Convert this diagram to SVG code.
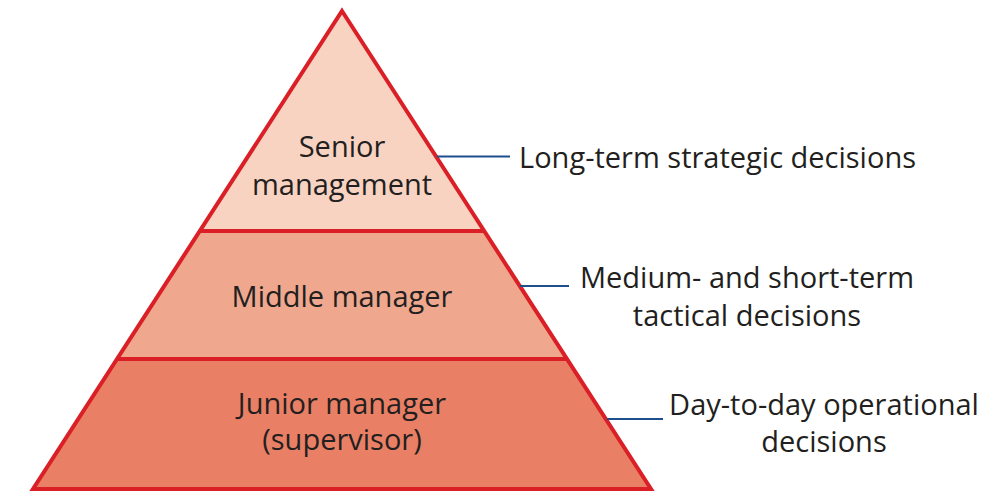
<svg xmlns="http://www.w3.org/2000/svg" width="1005" height="500" viewBox="0 0 1005 500">
  <style>
    .band { stroke: none; }
    .edge { fill: none; stroke: #DA1F26; stroke-width: 4; stroke-linejoin: miter; }
    .divider { stroke: #DA1F26; stroke-width: 4; }
    .lbl { font-family: "Open Sans", "Noto Sans", "Liberation Sans", sans-serif; font-size: 29px; fill: #231F20; text-anchor: middle; }
    .link { stroke: #1F4E8C; stroke-width: 2; }
  </style>

  <!-- pyramid tiers: apex (342,11), base (33,489)-(651,489) -->
  <g id="senior">
    <polygon class="band" fill="#F8D3C2" points="342,11 484.2,231 199.8,231"/>
    <text class="lbl" x="342" y="157">Senior</text>
    <text class="lbl" x="342" y="195">management</text>
  </g>
  <g id="middle">
    <polygon class="band" fill="#EFA78D" points="199.8,231 484.2,231 567,359 117,359"/>
    <text class="lbl" x="342" y="307">Middle manager</text>
  </g>
  <g id="junior">
    <polygon class="band" fill="#E98065" points="117,359 567,359 651,489 33,489"/>
    <text class="lbl" x="342" y="414">Junior manager</text>
    <text class="lbl" x="342" y="450">(supervisor)</text>
  </g>

  <!-- outline and tier dividers -->
  <g id="outline">
    <line class="divider" x1="199.8" y1="231" x2="484.2" y2="231"/>
    <line class="divider" x1="117" y1="359" x2="567" y2="359"/>
    <polygon class="edge" points="342,11 651,489 33,489"/>
  </g>

  <!-- connectors from tiers to decision types -->
  <g id="connectors">
    <line class="link" x1="437" y1="156.5" x2="510" y2="156.5"/>
    <line class="link" x1="520" y1="286" x2="569" y2="286"/>
    <line class="link" x1="607" y1="419" x2="663" y2="419"/>
  </g>

  <g id="strategic">
    <text class="lbl" x="717.5" y="168">Long-term strategic decisions</text>
  </g>
  <g id="tactical">
    <text class="lbl" x="747" y="288">Medium- and short-term</text>
    <text class="lbl" x="747" y="326">tactical decisions</text>
  </g>
  <g id="operational">
    <text class="lbl" x="824" y="415">Day-to-day operational</text>
    <text class="lbl" x="824" y="452">decisions</text>
  </g>
</svg>
